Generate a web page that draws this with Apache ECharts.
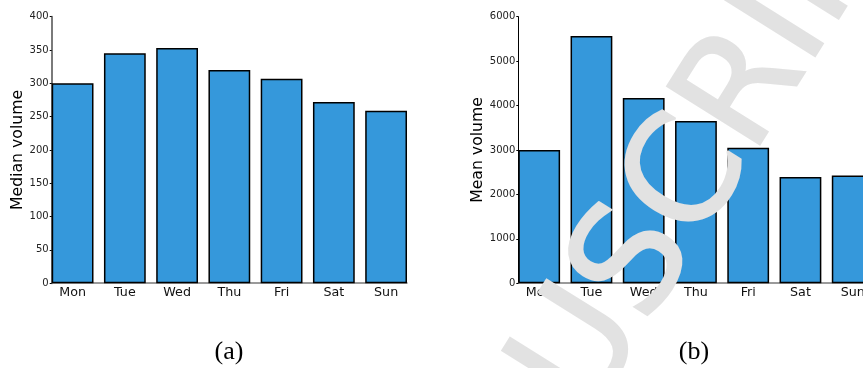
<!DOCTYPE html>
<html>
<head>
<meta charset="utf-8">
<script src="https://cdn.jsdelivr.net/npm/echarts@6/dist/echarts.min.js"></script>
<style>
  html, body { margin: 0; padding: 0; background: #ffffff; }
  #chart { width: 863px; height: 368px; }
</style>
</head>
<body>
<div id="chart"></div>
<script>
// Weekday categories shared by both panels
const days = ['Mon', 'Tue', 'Wed', 'Thu', 'Fri', 'Sat', 'Sun'];

// Panel (a): median volume per weekday
const medianVolume = [300, 345, 353, 320, 307, 272, 259];
const medianTicks = [0, 50, 100, 150, 200, 250, 300, 350, 400];

// Panel (b): mean volume per weekday
const meanVolume = [3000, 5566, 4171, 3653, 3052, 2392, 2422];
const meanTicks = [0, 1000, 2000, 3000, 4000, 5000, 6000];

// Panel captions
const panelLabels = ['(a)', '(b)'];

const FONT = 'DejaVu Sans';
const BAR_COLOR = '#3598db';
const STAMP_COLOR = '#e2e2e2';

// Bars sit on a numeric x axis: slot i spans [i, i + 0.8], centred at i + 0.4
const SLOT_STEP = 0.2;
const slotCenter = i => i + 0.4;
const xMax = days.length - 0.2;

function dayLabel(v) {
  const k = v - 0.4;
  const r = Math.round(k);
  return Math.abs(k - r) < 1e-6 && r >= 0 && r < days.length ? days[r] : '';
}

function xAxisFor(gridIndex) {
  return {
    type: 'value', gridIndex: gridIndex,
    min: 0, max: xMax, interval: SLOT_STEP,
    axisLine: { show: true, lineStyle: { color: '#7a7a7a', width: 1.5 } },
    axisTick: { show: false },
    splitLine: { show: false },
    axisLabel: {
      formatter: dayLabel, margin: 3, fontSize: 12.7, fontFamily: FONT, color: '#111',
      showMinLabel: true, showMaxLabel: true
    }
  };
}

function yAxisFor(gridIndex, ticks, name, gap, lineColor, lineWidth) {
  return {
    type: 'value', gridIndex: gridIndex,
    min: ticks[0], max: ticks[ticks.length - 1], interval: ticks[1] - ticks[0],
    axisLine: { show: true, lineStyle: { color: lineColor, width: lineWidth } },
    axisTick: { show: true, length: 2, lineStyle: { color: '#000' } },
    splitLine: { show: false },
    axisLabel: { margin: 3, fontSize: 10, fontFamily: FONT, color: '#222',
                 formatter: v => String(v) },
    name: name, nameLocation: 'middle', nameGap: gap,
    nameTextStyle: { fontSize: 15.7, fontFamily: FONT, color: '#000' }
  };
}

function barSeries(values, axisIndex) {
  return {
    type: 'bar', xAxisIndex: axisIndex, yAxisIndex: axisIndex,
    data: values.map((v, i) => [slotCenter(i), v]),
    barWidth: '80%',
    itemStyle: { color: BAR_COLOR, borderColor: '#000', borderWidth: 1.5 },
    silent: true
  };
}

const chart = echarts.init(document.getElementById('chart'), null, { renderer: 'canvas' });
chart.setOption({
  animation: false,
  backgroundColor: '#ffffff',
  grid: [
    { left: 51.7, top: 16.7, width: 355.3, height: 266.5, outerBoundsMode: 'none', containLabel: false },
    { left: 518.3, top: 16.7, width: 355.3, height: 266.5, outerBoundsMode: 'none', containLabel: false }
  ],
  xAxis: [xAxisFor(0), xAxisFor(1)],
  yAxis: [
    yAxisFor(0, medianTicks, 'Median volume', 23, '#7a7a7a', 2),
    yAxisFor(1, meanTicks, 'Mean volume', 27, '#000', 1)
  ],
  series: [barSeries(medianVolume, 0), barSeries(meanVolume, 1)],
  graphic: [
    {
      type: 'text', x: 229, y: 352,
      style: { text: panelLabels[0], font: '26px "Liberation Serif"', fill: '#000',
               textAlign: 'center', textVerticalAlign: 'middle' }
    },
    {
      type: 'text', x: 694, y: 352,
      style: { text: panelLabels[1], font: '26px "Liberation Serif"', fill: '#000',
               textAlign: 'center', textVerticalAlign: 'middle' }
    },
    {
      // diagonal stamp across the right panel
      type: 'text', x: 633.3, y: 273.3, rotation: 58 * Math.PI / 180, z: 100,
      style: { text: 'MANUSCRIPT', font: '150px "DejaVu Sans"', fill: STAMP_COLOR,
               stroke: STAMP_COLOR, lineWidth: 2,
               textAlign: 'center', textVerticalAlign: 'middle' }
    }
  ]
});
</script>
</body>
</html>
